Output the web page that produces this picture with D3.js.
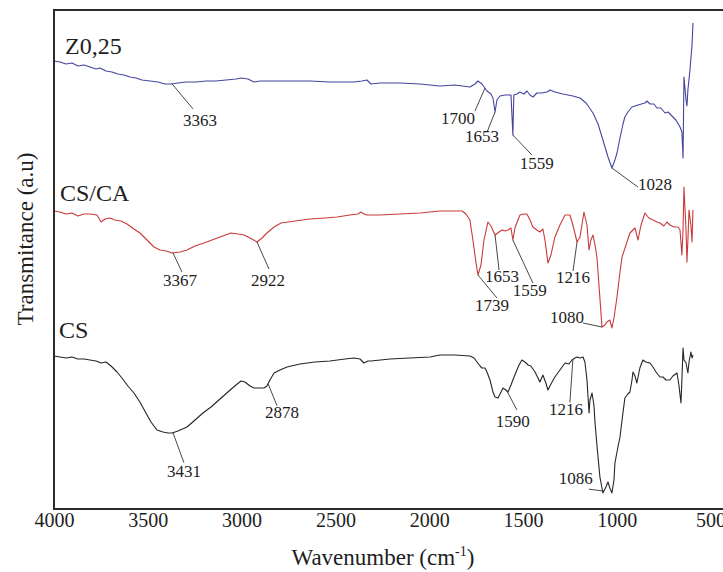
<!DOCTYPE html>
<html>
<head>
<meta charset="utf-8">
<script src="https://cdn.jsdelivr.net/npm/d3@7"></script>
<style>
    body { margin: 0; background: #fff; }
    svg { display: block; }
    text { font-family: "Liberation Serif", "Times New Roman", serif; fill: #1e1e1e; }
</style>
</head>
<body>
<div class="canvas"></div>
<script>
// spectra (wavenumber in cm-1, transmittance in arbitrary units)
const waveZ = [4000, 3968, 3936, 3904, 3872, 3840, 3808, 3776, 3755, 3723, 3691, 3659, 3627, 3595, 3563, 3531, 3488, 3446, 3408, 3376, 3339, 3296, 3243, 3190, 3137, 3083, 3030, 3003, 2966, 2934, 2902, 2849, 2742, 2636, 2529, 2401, 2358, 2332, 2310, 2262, 2156, 2049, 1943, 1863, 1783, 1756, 1740, 1719, 1692, 1671, 1660, 1649, 1639, 1623, 1596, 1564, 1554, 1549, 1532, 1516, 1495, 1479, 1463, 1447, 1426, 1399, 1372, 1356, 1330, 1287, 1234, 1196, 1164, 1127, 1100, 1074, 1047, 1026, 1010, 999, 983, 967, 957, 941, 919, 887, 850, 839, 823, 802, 786, 765, 743, 727, 706, 685, 663, 653, 647, 642, 631, 626, 621, 610, 599, 594];
const transZ = [448, 447, 445, 446, 443, 444, 442, 440, 441, 438, 437, 435, 434, 432, 431, 429, 428, 427, 425, 425, 426, 427, 427, 428, 428, 429, 430, 431, 430, 427, 428, 428, 428, 428, 427, 427, 428, 429, 425, 426, 426, 425, 423, 424, 422, 425, 428, 425, 418, 415, 411, 397, 409, 413, 414, 414, 374, 414, 415, 417, 415, 418, 414, 412, 416, 416, 417, 419, 417, 415, 413, 411, 406, 396, 385, 369, 352, 341, 349, 356, 371, 385, 392, 397, 402, 404, 406, 408, 405, 405, 401, 401, 396, 397, 393, 389, 382, 377, 351, 432, 409, 403, 419, 439, 464, 486];

const waveCSCA = [4000, 3968, 3936, 3904, 3872, 3840, 3808, 3771, 3749, 3728, 3702, 3675, 3643, 3611, 3574, 3542, 3504, 3467, 3435, 3403, 3371, 3328, 3291, 3248, 3201, 3158, 3115, 3057, 3019, 2987, 2955, 2918, 2891, 2865, 2827, 2790, 2715, 2636, 2556, 2492, 2422, 2380, 2364, 2348, 2332, 2262, 2156, 2049, 1943, 1863, 1825, 1804, 1783, 1767, 1751, 1740, 1724, 1708, 1687, 1671, 1649, 1628, 1612, 1596, 1580, 1564, 1554, 1543, 1527, 1516, 1495, 1479, 1463, 1447, 1426, 1410, 1394, 1383, 1367, 1351, 1330, 1303, 1276, 1250, 1234, 1212, 1196, 1175, 1159, 1148, 1138, 1127, 1116, 1106, 1095, 1079, 1063, 1053, 1037, 1026, 1015, 999, 983, 972, 951, 930, 914, 903, 887, 871, 850, 829, 807, 786, 770, 749, 733, 717, 695, 674, 663, 653, 647, 642, 631, 626, 621, 615, 605, 599, 594];
const transCSCA = [298, 297, 295, 296, 293, 295, 295, 294, 287, 290, 291, 289, 288, 285, 280, 276, 269, 262, 259, 258, 256, 257, 259, 263, 266, 269, 272, 276, 275, 274, 271, 267, 271, 276, 282, 286, 288, 290, 291, 292, 294, 295, 297, 295, 294, 294, 295, 296, 298, 298, 298, 295, 289, 269, 247, 234, 244, 269, 287, 283, 274, 277, 279, 278, 279, 281, 269, 281, 289, 294, 295, 295, 289, 282, 279, 277, 280, 269, 246, 254, 272, 284, 294, 294, 284, 267, 272, 297, 284, 259, 269, 274, 264, 252, 224, 182, 184, 187, 189, 181, 191, 212, 237, 252, 264, 276, 279, 281, 269, 284, 296, 291, 289, 287, 286, 283, 287, 284, 282, 282, 279, 254, 279, 322, 279, 247, 269, 299, 284, 267, 299];

const waveCS = [4000, 3968, 3936, 3904, 3872, 3840, 3808, 3776, 3749, 3723, 3696, 3664, 3638, 3606, 3574, 3542, 3510, 3483, 3451, 3419, 3392, 3371, 3339, 3291, 3248, 3206, 3163, 3115, 3073, 3030, 3003, 2982, 2955, 2934, 2907, 2881, 2865, 2849, 2827, 2795, 2758, 2689, 2609, 2529, 2449, 2401, 2369, 2348, 2326, 2310, 2209, 2103, 1996, 1943, 1863, 1783, 1761, 1745, 1729, 1719, 1703, 1692, 1676, 1660, 1649, 1633, 1617, 1607, 1591, 1580, 1564, 1554, 1537, 1521, 1506, 1490, 1473, 1458, 1436, 1420, 1410, 1394, 1378, 1367, 1351, 1330, 1303, 1276, 1255, 1239, 1223, 1212, 1196, 1180, 1170, 1159, 1148, 1143, 1132, 1122, 1116, 1106, 1090, 1074, 1058, 1047, 1037, 1026, 1015, 1010, 994, 983, 972, 957, 941, 930, 919, 914, 903, 893, 877, 861, 845, 823, 807, 791, 770, 754, 738, 717, 701, 679, 669, 658, 653, 647, 642, 631, 621, 615, 605, 599, 594];
const transCS = [153, 152, 151, 152, 150, 150, 149, 148, 146, 147, 143, 137, 131, 123, 116, 107, 96, 87, 79, 77, 76, 76, 78, 82, 89, 96, 102, 110, 117, 124, 128, 127, 123, 121, 121, 121, 123, 129, 136, 139, 142, 145, 147, 148, 150, 151, 150, 146, 148, 148, 150, 151, 152, 154, 154, 153, 151, 147, 143, 141, 141, 137, 129, 117, 112, 111, 117, 121, 119, 117, 124, 129, 137, 144, 149, 147, 144, 143, 137, 131, 127, 134, 126, 119, 125, 132, 139, 146, 145, 149, 151, 152, 151, 152, 147, 129, 96, 109, 116, 104, 86, 64, 32, 16, 22, 27, 21, 16, 29, 46, 62, 72, 89, 111, 115, 117, 129, 137, 133, 126, 141, 149, 147, 146, 142, 137, 132, 132, 129, 129, 133, 136, 124, 106, 129, 161, 149, 146, 136, 147, 157, 151, 154];

const xTicks = [4000, 3500, 3000, 2500, 2000, 1500, 1000, 500];

const seriesNames = ["Z0,25", "CS/CA", "CS"];

// peak labels and the wavenumber each leader line points at
const peakTextZ = ["3363", "1700", "1653", "1559", "1028"];
const peakWaveZ = [3371, 1703, 1649, 1554, 1026];
const peakTextCSCA = ["3367", "2922", "1739", "1653", "1559", "1216", "1080"];
const peakWaveCSCA = [3366, 2918, 1740, 1649, 1554, 1212, 1079];
const peakTextCS = ["3431", "2878", "1590", "1216", "1086"];
const peakWaveCS = [3366, 2859, 1586, 1234, 1069];

// layout ------------------------------------------------------------
const dims = { width: 723, height: 572 };
const plot = { left: 54, top: 10, bottom: 509, rightPx: 710.6 };

// leader line end and text position, pixel offsets from the anchor: [lx, ly, tx, ty]
const offZ = [[21, 25, 28, 42], [-10, 23, -27, 36], [-8, 20, -13, 30], [19, 20, 24, 34], [26, 19, 43, 22]];
const offCSCA = [[9, 19, 7, 33], [12, 27, 11, 44], [19, 23, 14, 36], [4, 35, 7, 47], [20, 43, 17, 56], [-4, 29, -4, 41], [-19, -4, -35, -4]];
const offCS = [[11, 30, 11, 44], [9, 22, 14, 34], [10, 19, 6, 36], [-3, 43, -7, 56], [-15, -2, -28, -7]];

const colors = ["#45459e", "#c93a3c", "#262626"];
const nameSpots = [[65, 54], [60, 201], [59, 338]];

const svg = d3
    .select(".canvas")
    .append("svg")
    .attr("width", dims.width)
    .attr("height", dims.height);

const x = d3.scaleLinear().domain([4000, 500]).range([plot.left, plot.rightPx]);
const y = d3.scaleLinear().domain([0, 499]).range([plot.bottom, plot.top]);

const line = d3
    .line()
    .x((d) => x(d[0]))
    .y((d) => y(d[1]));

const series = [
    { wave: waveZ, trans: transZ, text: peakTextZ, peaks: peakWaveZ, off: offZ },
    { wave: waveCSCA, trans: transCSCA, text: peakTextCSCA, peaks: peakWaveCSCA, off: offCSCA },
    { wave: waveCS, trans: transCS, text: peakTextCS, peaks: peakWaveCS, off: offCS },
];

// value of a spectrum at a given wavenumber (wavenumbers run downwards)
const valueAt = (wave, trans, w) => {
    for (let i = 0; i < wave.length - 1; i++) {
        if (wave[i] >= w && wave[i + 1] <= w) {
            const t = (wave[i] - w) / (wave[i] - wave[i + 1] || 1);
            return trans[i] + t * (trans[i + 1] - trans[i]);
        }
    }
    return trans[trans.length - 1];
};

// spectra
series.forEach((s, k) => {
    svg.append("path")
        .datum(d3.zip(s.wave, s.trans))
        .attr("fill", "none")
        .attr("stroke", colors[k])
        .attr("stroke-width", 1.1)
        .attr("stroke-linejoin", "round")
        .attr("d", line);

    svg.append("text")
        .attr("x", nameSpots[k][0])
        .attr("y", nameSpots[k][1])
        .attr("font-size", 24)
        .text(seriesNames[k]);

    // peak annotations
    s.peaks.forEach((w, i) => {
        const ax = x(w);
        const ay = y(valueAt(s.wave, s.trans, w));
        const o = s.off[i];
        svg.append("line")
            .attr("x1", ax)
            .attr("y1", ay)
            .attr("x2", ax + o[0])
            .attr("y2", ay + o[1])
            .attr("stroke", "#333")
            .attr("stroke-width", 0.9);
        svg.append("text")
            .attr("x", ax + o[2])
            .attr("y", ay + o[3])
            .attr("text-anchor", "middle")
            .attr("font-size", 17)
            .text(s.text[i]);
    });
});

// frame: left, top and bottom (right edge runs off the picture)
const frame = svg.append("g").attr("stroke", "#2b2b2b").attr("stroke-width", 2).attr("fill", "none");
frame.append("line").attr("x1", plot.left).attr("x2", plot.left).attr("y1", plot.top).attr("y2", plot.bottom);
frame.append("line").attr("x1", plot.left - 1).attr("x2", dims.width + 5).attr("y1", plot.top).attr("y2", plot.top);
frame.append("line").attr("x1", plot.left - 1).attr("x2", dims.width + 5).attr("y1", plot.bottom).attr("y2", plot.bottom);

// x axis, labels only
const xAxis = d3.axisBottom(x).tickValues(xTicks).tickFormat(d3.format("d")).tickSize(0).tickPadding(0);
const gx = svg.append("g").attr("transform", `translate(0, ${plot.bottom})`).call(xAxis);
gx.select(".domain").remove();
gx.selectAll("text")
    .attr("font-size", 20)
    .attr("fill", "#1e1e1e")
    .attr("dy", null)
    .attr("y", 18);

// axis titles
const xTitle = svg.append("text")
    .attr("x", 383)
    .attr("y", 565)
    .attr("text-anchor", "middle")
    .attr("font-size", 23);
xTitle.append("tspan").text("Wavenumber (cm");
xTitle.append("tspan").attr("font-size", 14).attr("dy", -9).text("-1");
xTitle.append("tspan").attr("dy", 9).text(")");

svg.append("text")
    .attr("transform", "translate(33, 239) rotate(-90)")
    .attr("text-anchor", "middle")
    .attr("font-size", 23)
    .text("Transmitance (a.u)");
</script>
</body>
</html>
